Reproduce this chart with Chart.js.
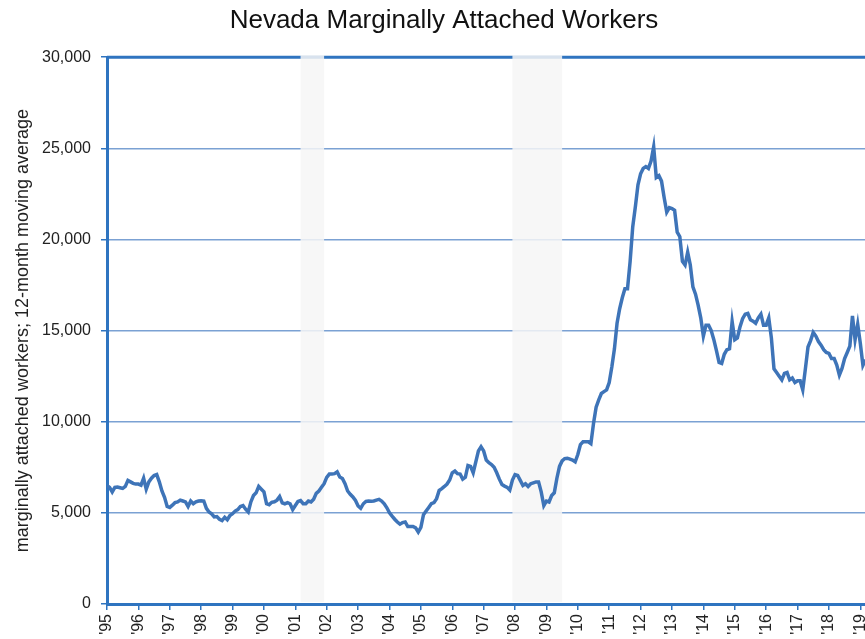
<!DOCTYPE html>
<html lang="en">
<head>
    <meta charset="UTF-8">
    <title>Nevada Marginally Attached Workers</title>
    <script src="https://cdn.jsdelivr.net/npm/chart.js"></script>
    <style>
        body {
            margin: 0;
            background-color: #ffffff;
            overflow: hidden;
        }
        #chart {
            display: block;
        }
    </style>
</head>
<body>
    <canvas id="chart" width="886" height="655"></canvas>

    <script>
        // Year tick labels (one tick every 12 months, starting Jan 1995)
        const yearLabels = ["'95", "'96", "'97", "'98", "'99", "'00", "'01", "'02", "'03", "'04",
            "'05", "'06", "'07", "'08", "'09", "'10", "'11", "'12", "'13", "'14",
            "'15", "'16", "'17", "'18", "'19"];

        // Recessions, in months since Jan 1995 (start, end)
        const recessions = [[74, 83], [155, 174]];

        // Marginally attached workers, 12-month moving average, monthly from Jan 1995
        const workers = [
            6500, 6400, 6150, 6400, 6420, 6380, 6340, 6450, 6780, 6700, 6620, 6580,        // 1995
            6580, 6520, 6900, 6300, 6700, 6900, 7050, 7100, 6700, 6200, 5850, 5350,        // 1996
            5300, 5420, 5560, 5600, 5700, 5650, 5600, 5350, 5650, 5500, 5600, 5650,        // 1997
            5670, 5650, 5250, 5050, 4950, 4780, 4800, 4650, 4580, 4760, 4620, 4850,        // 1998
            4950, 5100, 5180, 5350, 5400, 5200, 5050, 5600, 5950, 6100, 6450, 6300,        // 1999
            6150, 5500, 5450, 5580, 5610, 5700, 5900, 5550, 5500, 5560, 5500, 5180,        // 2000
            5400, 5620, 5670, 5500, 5500, 5650, 5600, 5750, 6070, 6200, 6400, 6600,        // 2001
            6950, 7130, 7130, 7150, 7250, 6970, 6890, 6600, 6200, 6020, 5870, 5680,        // 2002
            5380, 5250, 5500, 5630, 5650, 5640, 5650, 5700, 5740, 5650, 5500, 5280,        // 2003
            5000, 4820, 4650, 4500, 4380, 4470, 4500, 4250, 4250, 4250, 4180, 3950,        // 2004
            4200, 4900, 5100, 5300, 5500, 5560, 5780, 6230, 6330, 6450, 6580, 6800,        // 2005
            7200, 7300, 7150, 7130, 6850, 6950, 7600, 7550, 7200, 7800, 8400, 8630,        // 2006
            8400, 7900, 7750, 7650, 7500, 7200, 6850, 6550, 6470, 6400, 6250, 6800,        // 2007
            7100, 7050, 6780, 6500, 6600, 6450, 6600, 6650, 6700, 6700, 6150, 5400,        // 2008
            5650, 5600, 5950, 6100, 6900, 7550, 7850, 7980, 8000, 7950, 7900, 7800,        // 2009
            8200, 8750, 8900, 8900, 8900, 8800, 9900, 10800, 11200, 11550, 11650, 11750,   // 2010
            12150, 13000, 14000, 15400, 16200, 16800, 17300, 17300, 18800, 20700, 21800, 23000, // 2011
            23600, 23900, 24000, 23900, 24300, 25080, 23400, 23500, 23200, 22300, 21500, 21750, // 2012
            21700, 21600, 20400, 20150, 18800, 18600, 19300, 18600, 17400, 17000, 16400, 15700, // 2013
            14700, 15300, 15300, 15000, 14500, 13900, 13250, 13200, 13700, 13950, 14000, 15500, // 2014
            14500, 14600, 15200, 15650, 15900, 15940, 15600, 15520, 15400, 15700, 15900, 15300, // 2015
            15300, 15700, 14600, 12900, 12700, 12500, 12300, 12650, 12700, 12300, 12400, 12150, // 2016
            12250, 12250, 11750, 12900, 14100, 14450, 14900, 14700, 14400, 14200, 13950, 13800, // 2017
            13750, 13470, 13470, 13110, 12560, 12920, 13470, 13800, 14150, 15800, 14500, 15350, // 2018
            14300, 13100, 13400                                                               // 2019
        ];

        const axisBlue = '#2f74c0';
        const gridBlue = '#7ba1d3';
        const lineBlue = '#3e74b8';

        // frame on top/right and the recession bands
        const framePlugin = {
            id: 'frame',
            beforeDatasetsDraw(chart) {
                const { ctx, chartArea: a, scales } = chart;
                ctx.save();
                ctx.strokeStyle = axisBlue;
                ctx.lineWidth = 3;
                ctx.beginPath();
                ctx.moveTo(a.left, a.top);
                ctx.lineTo(a.right, a.top);
                ctx.lineTo(a.right, a.bottom);
                ctx.stroke();

                ctx.fillStyle = 'rgba(246, 246, 246, 0.85)';
                recessions.forEach(([start, end]) => {
                    const x0 = scales.x.getPixelForValue(start);
                    const x1 = scales.x.getPixelForValue(end);
                    ctx.fillRect(x0, a.top - 2, x1 - x0, a.bottom - a.top);
                });
                ctx.restore();
            }
        };

        Chart.defaults.font.family = "'Liberation Sans', Arial, sans-serif";

        new Chart(document.getElementById('chart'), {
            type: 'line',
            data: {
                datasets: [{
                    data: workers.map((v, i) => ({ x: i, y: v })),
                    borderColor: lineBlue,
                    borderWidth: 3.5,
                    pointRadius: 0,
                    tension: 0
                }]
            },
            options: {
                responsive: false,
                animation: false,
                layout: { padding: { left: 12, right: 10, top: 0, bottom: 4 } },
                plugins: {
                    legend: { display: false },
                    tooltip: { enabled: false },
                    title: {
                        display: true,
                        text: 'Nevada Marginally Attached Workers',
                        color: '#111',
                        font: { size: 26, weight: 'normal' },
                        padding: { top: 5, bottom: 21 }
                    }
                },
                scales: {
                    x: {
                        type: 'linear',
                        min: 0,
                        max: 294,
                        afterBuildTicks: (s) => { s.ticks = yearLabels.map((_, k) => ({ value: k * 12 })); },
                        afterFit: (s) => { s.height = 47; },
                        ticks: {
                            autoSkip: false,
                            minRotation: 90,
                            maxRotation: 90,
                            padding: 4,
                            color: '#222',
                            font: { size: 16 },
                            callback: (v, idx) => yearLabels[idx]
                        },
                        grid: { drawOnChartArea: false, tickLength: 6, color: axisBlue, lineWidth: 1.5 },
                        border: { color: axisBlue, width: 3 }
                    },
                    y: {
                        min: 0,
                        max: 30000,
                        afterFit: (s) => { s.width = 95; },
                        ticks: {
                            stepSize: 5000,
                            padding: 10,
                            color: '#222',
                            font: { size: 16 },
                            callback: (v) => v.toLocaleString('en-US')
                        },
                        grid: { color: gridBlue, lineWidth: 1.5, tickLength: 6, tickColor: axisBlue },
                        border: { color: axisBlue, width: 3 },
                        title: {
                            display: true,
                            text: 'marginally attached workers; 12-month moving average',
                            color: '#222',
                            font: { size: 18 },
                            padding: 0
                        }
                    }
                }
            },
            plugins: [framePlugin]
        });
    </script>
</body>
</html>
